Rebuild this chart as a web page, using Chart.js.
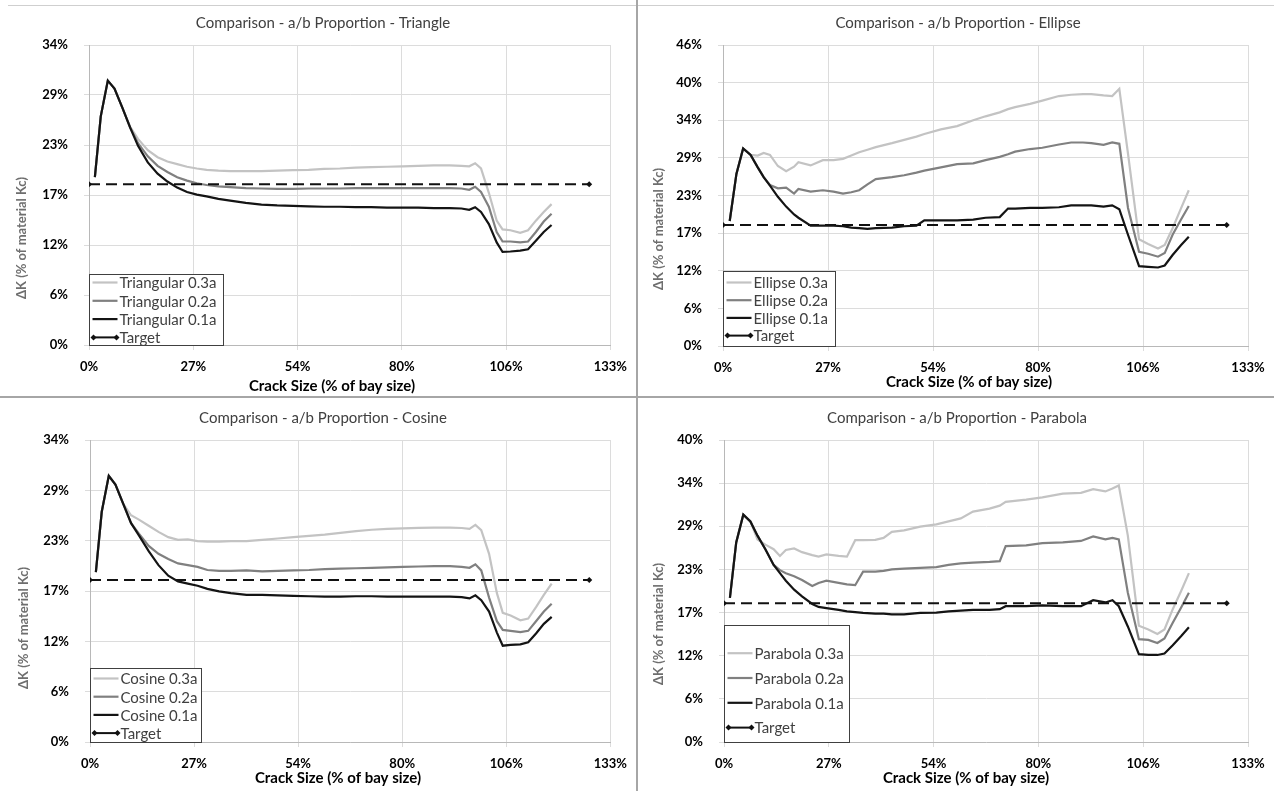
<!DOCTYPE html>
<html>
<head>
<meta charset="utf-8">
<title>Comparison - a/b Proportion</title>
<script src="https://cdn.jsdelivr.net/npm/chart.js@4.4.1/dist/chart.umd.min.js"></script>
<style>
  html, body { margin: 0; padding: 0; background: #fff; }
  #wrap { position: relative; width: 1274px; height: 791px; overflow: hidden; background: #fff; }
  canvas { position: absolute; }
  .line { position: absolute; background: #a6a6a6; }
</style>
</head>
<body>
<div id="wrap">
  <div class="line" style="left:8px;top:5px;width:1266px;height:1px;background:#cfcfcf"></div>
  <div class="line" style="left:636px;top:0;width:2px;height:791px"></div>
  <div class="line" style="left:0;top:396px;width:1274px;height:2px"></div>
  <canvas id="c-tri" width="636" height="395" style="left:0;top:0"></canvas>
  <canvas id="c-ell" width="635" height="395" style="left:639px;top:0"></canvas>
  <canvas id="c-cos" width="636" height="392" style="left:0;top:399px"></canvas>
  <canvas id="c-par" width="635" height="392" style="left:639px;top:399px"></canvas>
</div>
<script>
// axis ticks (crack size and ΔK are both in % here)
const xTicks = [0, 26.6, 53.2, 79.8, 106.4, 133];
const xTickLabels = ['0%', '27%', '54%', '80%', '106%', '133%'];
const yStep = 5.75;
const yLabelsTri = ['0%', '6%', '12%', '17%', '23%', '29%', '34%'];
const yLabelsEll = ['0%', '6%', '12%', '17%', '23%', '29%', '34%', '40%', '46%'];
const yLabelsCos = ['0%', '6%', '12%', '17%', '23%', '29%', '34%'];
const yLabelsPar = ['0%', '6%', '12%', '17%', '23%', '29%', '34%', '40%'];

// target line
const targetX = [0, 127.6];
const targetY = [18.5, 18.5];

// Triangle
const xTri = [1.5, 3, 4.8, 6.5, 8.5, 10.5, 12.5, 15, 17.5, 20, 22.5, 25, 27.5, 30, 33, 36, 40, 44, 48, 52, 56, 60, 64, 68, 72, 76, 80, 84, 88, 92, 95, 97, 98.5, 100, 102, 104, 105.5, 107.5, 110, 112, 114, 116, 118];
const tri03 = [19.3, 26.3, 30.4, 29.5, 27.3, 25.1, 23.7, 22.4, 21.6, 21.1, 20.8, 20.5, 20.3, 20.15, 20.05, 20.0, 20.0, 20.0, 20.05, 20.1, 20.15, 20.25, 20.3, 20.4, 20.45, 20.5, 20.55, 20.6, 20.65, 20.65, 20.6, 20.55, 20.9, 20.3, 17.5, 14.3, 13.3, 13.2, 12.9, 13.2, 14.3, 15.3, 16.2];
const tri02 = [19.3, 26.3, 30.4, 29.5, 27.3, 25.0, 23.2, 21.7, 20.6, 19.9, 19.3, 18.9, 18.6, 18.4, 18.25, 18.15, 18.05, 18.0, 17.95, 17.95, 18.0, 18.0, 18.0, 18.05, 18.05, 18.05, 18.05, 18.05, 18.05, 18.05, 18.0, 17.85, 18.2, 17.6, 15.9, 13.0, 11.9, 11.9, 11.8, 11.9, 13.0, 14.2, 15.1];
const tri01 = [19.3, 26.3, 30.4, 29.5, 27.3, 25.0, 22.9, 21.0, 19.7, 18.8, 18.1, 17.6, 17.3, 17.1, 16.8, 16.6, 16.35, 16.15, 16.05, 16.0, 15.95, 15.9, 15.9, 15.85, 15.85, 15.8, 15.8, 15.8, 15.75, 15.75, 15.7, 15.55, 15.85, 15.3, 13.9, 11.8, 10.7, 10.75, 10.85, 11.0, 12.0, 13.0, 13.8];

// Ellipse
const xEll = [1.7, 3.4, 5.1, 7, 8.8, 10.3, 11.9, 13.9, 16, 18, 19.1, 22.2, 25.3, 28, 30.4, 32.5, 34.5, 36.6, 38.7, 42.8, 45.9, 49, 51, 55.2, 59.3, 63.4, 66.5, 70.1, 72.2, 74, 77.8, 80.9, 85.1, 88.2, 91.2, 93.3, 96.4, 98.6, 100.4, 102.6, 105.4, 107.7, 110.2, 111.9, 113.9, 116, 118];
const ell03 = [19.1, 26.3, 30.2, 29.2, 29.1, 29.5, 29.2, 27.5, 26.7, 27.4, 28.1, 27.6, 28.4, 28.4, 28.6, 29.1, 29.6, 30.0, 30.4, 31.0, 31.5, 32.0, 32.4, 33.1, 33.6, 34.5, 35.1, 35.7, 36.2, 36.5, 37.0, 37.5, 38.2, 38.4, 38.5, 38.5, 38.3, 38.2, 39.3, 29.4, 16.3, 15.6, 14.9, 15.45, 18.0, 21.0, 23.8];
const ell02 = [19.1, 26.3, 30.2, 29.2, 27.3, 25.8, 24.6, 24.1, 24.2, 23.3, 24.0, 23.6, 23.8, 23.6, 23.3, 23.5, 23.8, 24.7, 25.5, 25.8, 26.1, 26.5, 26.8, 27.3, 27.8, 27.9, 28.4, 28.9, 29.3, 29.7, 30.1, 30.3, 30.8, 31.1, 31.1, 31.0, 30.75, 31.1, 30.9, 21.1, 14.4, 14.1, 13.65, 14.2, 17.0, 19.3, 21.4];
const ell01 = [19.1, 26.3, 30.2, 29.2, 27.3, 25.8, 24.5, 22.8, 21.3, 20.1, 19.6, 18.4, 18.4, 18.4, 18.3, 18.1, 18.0, 17.9, 18.0, 18.1, 18.3, 18.4, 19.2, 19.2, 19.2, 19.3, 19.6, 19.7, 21.0, 21.0, 21.1, 21.1, 21.2, 21.5, 21.5, 21.5, 21.3, 21.5, 20.9, 17.0, 12.2, 12.1, 12.0, 12.3, 13.9, 15.4, 16.7];

// Cosine
const xCos = [1.5, 3, 4.8, 6.5, 8.5, 10.5, 12.5, 15, 17.5, 20, 22.5, 25, 27.5, 30, 33, 36, 40, 44, 48, 52, 56, 60, 64, 68, 72, 76, 80, 84, 88, 92, 95, 97, 98.5, 100, 102, 104, 105.5, 107.5, 110, 112, 114, 116, 118];
const cos03 = [19.4, 26.3, 30.4, 29.4, 27.2, 25.9, 25.4, 24.7, 24.0, 23.4, 23.1, 23.15, 22.95, 22.9, 22.9, 22.95, 22.95, 23.1, 23.25, 23.4, 23.55, 23.7, 23.9, 24.1, 24.25, 24.35, 24.4, 24.45, 24.5, 24.5, 24.45, 24.35, 24.8, 24.2, 21.5, 17.0, 14.75, 14.45, 13.9, 14.1, 15.4, 16.8, 18.1];
const cos02 = [19.4, 26.3, 30.4, 29.4, 27.2, 25.0, 23.8, 22.4, 21.5, 20.9, 20.4, 20.2, 20.0, 19.65, 19.55, 19.55, 19.6, 19.5, 19.55, 19.6, 19.65, 19.75, 19.8, 19.85, 19.9, 19.95, 20.0, 20.05, 20.1, 20.1, 20.0, 19.9, 20.3, 19.6, 16.5, 13.8, 12.8, 12.7, 12.55, 12.7, 13.8, 14.9, 15.8];
const cos01 = [19.4, 26.3, 30.4, 29.4, 27.2, 25.0, 23.6, 21.8, 20.2, 19.0, 18.35, 18.1, 17.85, 17.5, 17.2, 17.0, 16.8, 16.8, 16.75, 16.7, 16.65, 16.6, 16.6, 16.65, 16.65, 16.6, 16.6, 16.6, 16.6, 16.6, 16.55, 16.4, 16.75, 16.2, 14.9, 12.5, 11.0, 11.1, 11.15, 11.4, 12.4, 13.5, 14.3];

// Parabola
const xPar = [1.5, 3.1, 4.9, 6.7, 8.5, 10.5, 12.6, 14.2, 15.7, 17.8, 19.8, 22.4, 24, 26, 29.1, 31.2, 33.3, 35.3, 38.4, 40.5, 42.6, 45.7, 49.8, 53.9, 57, 60.1, 63.2, 67.4, 70, 71.5, 76.7, 80.8, 86, 90.6, 93.7, 96.8, 98.6, 100.2, 102.5, 105.3, 107.7, 110, 111.8, 113.9, 116, 118];
const par03 = [19.2, 26.6, 30.3, 29.4, 27.0, 26.3, 25.7, 24.8, 25.6, 25.8, 25.3, 24.9, 24.7, 25.0, 24.8, 24.7, 26.9, 26.9, 26.95, 27.2, 28.0, 28.2, 28.7, 29.0, 29.4, 29.8, 30.7, 31.1, 31.5, 32.0, 32.3, 32.6, 33.1, 33.2, 33.7, 33.4, 33.8, 34.2, 27.5, 15.5, 15.0, 14.4, 15.0, 17.7, 20.1, 22.5];
const par02 = [19.2, 26.6, 30.3, 29.4, 27.5, 25.7, 23.6, 22.9, 22.5, 22.1, 21.6, 20.8, 21.2, 21.5, 21.2, 21.0, 20.9, 22.7, 22.7, 22.8, 23.0, 23.1, 23.2, 23.3, 23.6, 23.8, 23.9, 24.0, 24.1, 26.1, 26.2, 26.5, 26.6, 26.8, 27.4, 27.0, 27.2, 27.0, 19.9, 13.7, 13.6, 13.2, 13.8, 15.9, 17.9, 19.9];
const par01 = [19.2, 26.6, 30.3, 29.4, 27.5, 25.7, 23.6, 22.5, 21.5, 20.3, 19.4, 18.4, 18.0, 17.85, 17.6, 17.4, 17.3, 17.2, 17.1, 17.1, 17.0, 17.0, 17.2, 17.25, 17.4, 17.5, 17.6, 17.6, 17.7, 18.1, 18.1, 18.2, 18.1, 18.1, 18.9, 18.6, 18.9, 18.1, 15.4, 11.7, 11.6, 11.6, 11.8, 12.9, 14.1, 15.3];

const FONT = 'Lato, "Open Sans", sans-serif';
const AXIS_W = 80;   // fixed y axis width (labels are clipped to it)
const AXIS_H = 40;   // fixed x axis height

const panels = [
    { id: 'c-tri', title: 'Comparison - a/b Proportion - Triangle', prefix: 'Triangular',
      x: xTri, ys: [tri03, tri02, tri01], yLabels: yLabelsTri,
      area: { left: 89, right: 614, top: 45, bottom: 345 },
      titlePos: [323, 23], xTitlePos: [332, 386], yTitlePos: [22, 238],
      legend: { w: 134, h: 71, first: 8, row: 18.3 } },
    { id: 'c-ell', title: 'Comparison - a/b Proportion - Ellipse', prefix: 'Ellipse',
      x: xEll, ys: [ell03, ell02, ell01], yLabels: yLabelsEll,
      area: { left: 84, right: 609, top: 45, bottom: 346 },
      titlePos: [319, 23], xTitlePos: [330, 382], yTitlePos: [20, 229],
      legend: { w: 112, h: 75, first: 11, row: 17.7 } },
    { id: 'c-cos', title: 'Comparison - a/b Proportion - Cosine', prefix: 'Cosine',
      x: xCos, ys: [cos03, cos02, cos01], yLabels: yLabelsCos,
      area: { left: 90, right: 614, top: 41, bottom: 343 },
      titlePos: [323, 19], xTitlePos: [338, 379], yTitlePos: [24, 229],
      legend: { w: 108, h: 74, first: 10, row: 18.2 } },
    { id: 'c-par', title: 'Comparison - a/b Proportion - Parabola', prefix: 'Parabola',
      x: xPar, ys: [par03, par02, par01], yLabels: yLabelsPar,
      area: { left: 85, right: 609, top: 41, bottom: 343 },
      titlePos: [318, 19], xTitlePos: [327, 379], yTitlePos: [20, 225],
      legend: { w: 125, h: 117, first: 27.7, row: 24.8 } }
];

const seriesColors = ['#c3c3c3', '#808080', '#141414'];
const seriesTags = ['0.3a', '0.2a', '0.1a'];
const drawOrder = [4, 3, 1];

function diamond(ctx, x, y, r) {
    ctx.beginPath();
    ctx.moveTo(x, y - r);
    ctx.lineTo(x + r, y);
    ctx.lineTo(x, y + r);
    ctx.lineTo(x - r, y);
    ctx.closePath();
    ctx.fill();
}

// titles, axis titles and the boxed legend, placed like the Excel original
const panelDecor = {
    id: 'panelDecor',
    afterDatasetsDraw(chart, args, o) {
        const ctx = chart.ctx;
        const a = chart.chartArea;
        ctx.save();
        ctx.textAlign = 'center';
        ctx.textBaseline = 'middle';

        ctx.fillStyle = '#404040';
        ctx.font = '15px ' + FONT;
        ctx.fillText(o.title, o.titlePos[0], o.titlePos[1]);

        ctx.fillStyle = '#000';
        ctx.font = 'bold 15px ' + FONT;
        ctx.fillText('Crack Size (% of bay size)', o.xTitlePos[0], o.xTitlePos[1]);

        ctx.save();
        ctx.translate(o.yTitlePos[0], o.yTitlePos[1]);
        ctx.rotate(-Math.PI / 2);
        ctx.fillStyle = '#6e6e6e';
        ctx.font = 'bold 13px ' + FONT;
        ctx.fillText('ΔK (% of material Kc)', 0, 0);
        ctx.restore();

        // legend
        const lg = o.legend;
        const sets = chart.data.datasets;
        ctx.font = '15px ' + FONT;
        let tw = 0;
        sets.forEach(d => { tw = Math.max(tw, ctx.measureText(d.label).width); });
        const w = Math.max(lg.w, Math.round(tw + 34));
        const x0 = Math.round(a.left) + 0.5;
        const y0 = Math.round(a.bottom - lg.h) + 0.5;
        ctx.fillStyle = '#fff';
        ctx.fillRect(x0, y0, w, lg.h);
        ctx.strokeStyle = '#404040';
        ctx.lineWidth = 1;
        ctx.strokeRect(x0, y0, w, lg.h);

        ctx.textAlign = 'left';
        sets.forEach((d, i) => {
            const cy = y0 + lg.first + i * lg.row;
            ctx.strokeStyle = d.borderColor;
            ctx.lineWidth = d.borderWidth;
            ctx.setLineDash([]);
            ctx.beginPath();
            ctx.moveTo(x0 + 3, cy);
            ctx.lineTo(x0 + 28, cy);
            ctx.stroke();
            if (d.pointRadius) {
                ctx.fillStyle = d.borderColor;
                diamond(ctx, x0 + 4, cy, 3);
                diamond(ctx, x0 + 27, cy, 3);
            }
            ctx.fillStyle = '#404040';
            ctx.fillText(d.label, x0 + 30, cy + 1);
        });
        ctx.restore();
    }
};

function makeChart(p) {
    const canvas = document.getElementById(p.id);
    const W = canvas.width, H = canvas.height;

    const datasets = p.ys.map((ys, k) => ({
        label: p.prefix + ' ' + seriesTags[k],
        data: p.x.map((v, i) => ({ x: v, y: ys[i] })),
        borderColor: seriesColors[k],
        borderWidth: 2.2,
        pointRadius: 0,
        tension: 0,
        fill: false,
        order: drawOrder[k]
    }));
    datasets.push({
        label: 'Target',
        data: targetX.map((v, i) => ({ x: v, y: targetY[i] })),
        borderColor: '#111',
        backgroundColor: '#111',
        borderWidth: 2,
        borderDash: [11, 6],
        pointStyle: 'rectRot',
        pointRadius: 3,
        pointBorderWidth: 0,
        fill: false,
        order: 2
    });

    const yVals = p.yLabels.map((_, i) => i * yStep);

    return new Chart(canvas.getContext('2d'), {
        type: 'line',
        data: { datasets },
        options: {
            responsive: false,
            animation: false,
            events: [],
            layout: {
                padding: {
                    left: p.area.left - AXIS_W,
                    right: W - p.area.right,
                    top: p.area.top,
                    bottom: H - p.area.bottom - AXIS_H
                }
            },
            plugins: {
                legend: { display: false },
                tooltip: { enabled: false },
                panelDecor: { title: p.title, titlePos: p.titlePos, xTitlePos: p.xTitlePos, yTitlePos: p.yTitlePos, legend: p.legend }
            },
            scales: {
                x: {
                    type: 'linear',
                    min: 0,
                    max: 133,
                    afterBuildTicks: s => { s.ticks = xTicks.map(v => ({ value: v })); },
                    afterFit: s => { s.height = AXIS_H; },
                    ticks: {
                        autoSkip: false,
                        maxRotation: 0,
                        padding: 9,
                        color: '#000',
                        font: { family: FONT, size: 13, weight: 'bold' },
                        callback: (v, i) => xTickLabels[i]
                    },
                    grid: { color: '#dcdcdc', tickLength: 5 },
                    border: { color: '#b8b8b8' }
                },
                y: {
                    min: 0,
                    max: yVals[yVals.length - 1],
                    afterBuildTicks: s => { s.ticks = yVals.map(v => ({ value: v })); },
                    afterFit: s => { s.width = AXIS_W; },
                    ticks: {
                        padding: 16,
                        color: '#000',
                        font: { family: FONT, size: 13, weight: 'bold' },
                        callback: (v, i) => p.yLabels[i]
                    },
                    grid: { color: '#dcdcdc', tickLength: 5 },
                    border: { color: '#b8b8b8' }
                }
            }
        },
        plugins: [panelDecor]
    });
}

document.addEventListener('DOMContentLoaded', () => {
    panels.forEach(makeChart);
});
</script>
</body>
</html>
